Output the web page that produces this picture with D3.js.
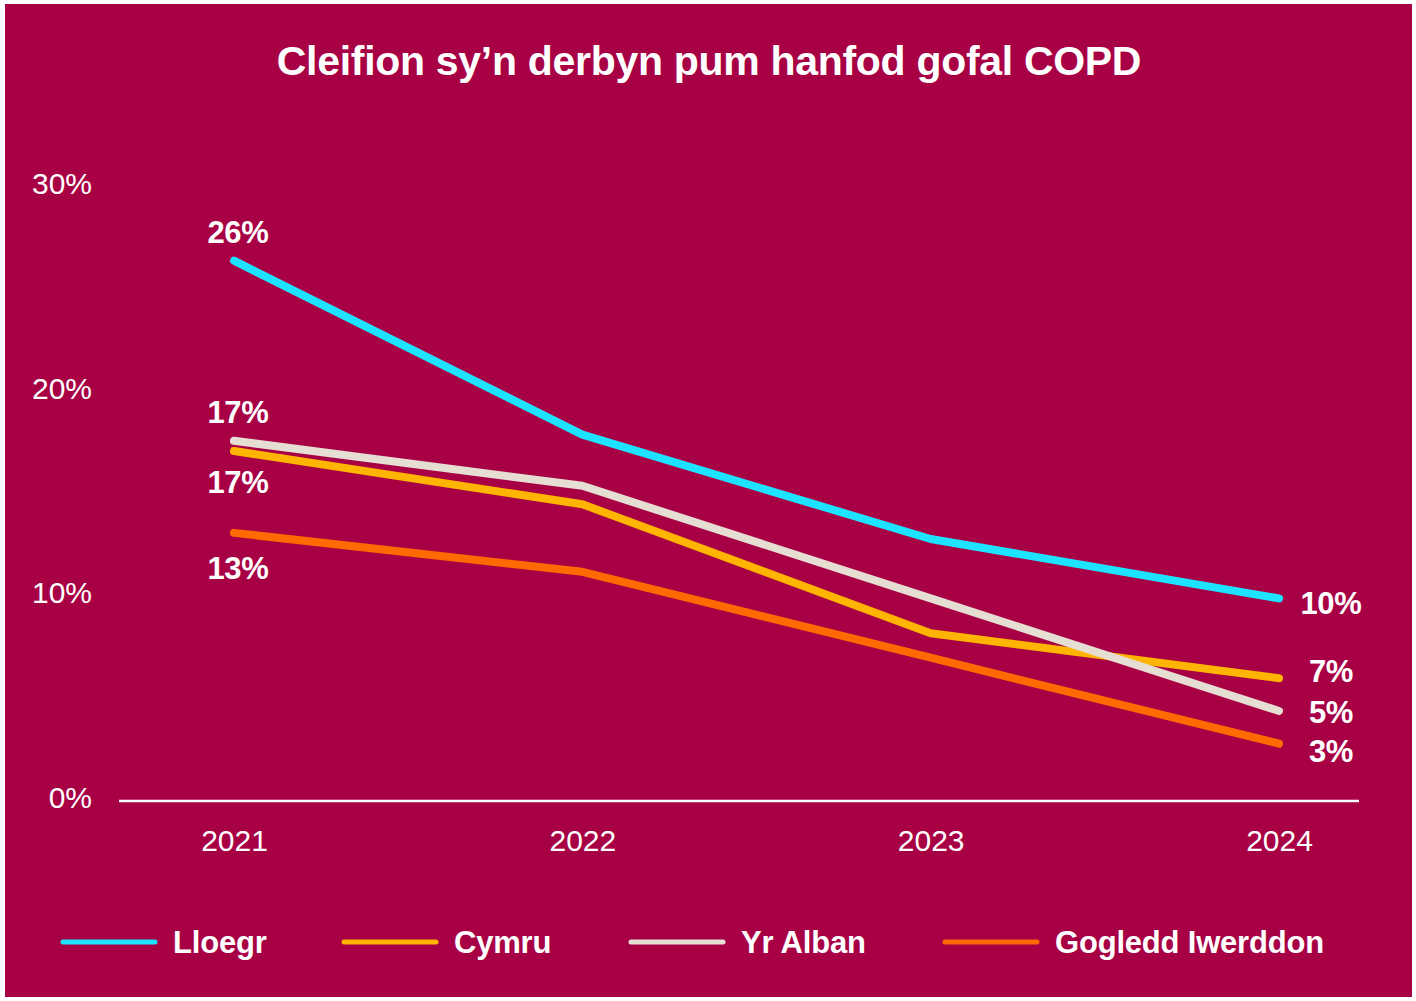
<!DOCTYPE html>
<html>
<head>
<meta charset="utf-8">
<script src="https://cdn.jsdelivr.net/npm/d3@7"></script>
<style>
  body { margin: 0; background: #fff; }
  svg text { font-family: "Liberation Sans", Arial, sans-serif; }
</style>
</head>
<body>
<div class="container"></div>
<script>
// chart data
const years = ["2021", "2022", "2023", "2024"];
const seriesNames = ["Lloegr", "Cymru", "Yr Alban", "Gogledd Iwerddon"];
const lloegr = [26.4, 17.9, 12.8, 9.9];
const cymru = [17.1, 14.5, 8.2, 6.0];
const yrAlban = [17.6, 15.4, 9.9, 4.4];
const gogleddIwerddon = [13.1, 11.2, 7.0, 2.8];
const startLabels = ["26%", "17%", "17%", "13%"];
const endLabels = ["10%", "7%", "5%", "3%"];
const yTicks = [0, 10, 20, 30];

// style per series: colour and label offsets
const colors = ["#1ee3ff", "#ffb400", "#e6ddd3", "#ff6a00"];
const startDy = [-29, 31, -29, 35];
const endDy = [5, -7, 1, 7];
const drawOrder = [3, 1, 2, 0];

const width = 1416;
const height = 1001;
const margin = { top: 187, bottom: 201, left: 119, right: 57 };

const svg = d3.select(".container")
  .append("svg")
  .attr("width", width)
  .attr("height", height);

// background panel
svg.append("rect")
  .attr("x", 5).attr("y", 4)
  .attr("width", 1407).attr("height", 993)
  .attr("fill", "#a80044");

// title
svg.append("text")
  .attr("x", 709).attr("y", 75)
  .attr("text-anchor", "middle")
  .attr("fill", "#fff")
  .attr("font-size", 41)
  .attr("font-weight", "bold")
  .attr("letter-spacing", -0.3)
  .text("Cleifion sy\u2019n derbyn pum hanfod gofal COPD");

const xScale = d3.scalePoint()
  .domain(years)
  .range([234, 1279]);

const yScale = d3.scaleLinear()
  .domain([0, 30])
  .range([height - margin.bottom + 1, margin.top]);

// y axis labels
const yAxis = svg.append("g")
  .attr("transform", `translate(92, -3)`)
  .call(d3.axisLeft(yScale).tickValues(yTicks).tickFormat(d => d + "%").tickSize(0).tickPadding(0));
yAxis.select(".domain").remove();
yAxis.selectAll("text")
  .attr("fill", "#fff")
  .attr("font-size", 30)
  .attr("font-family", "Lato, 'Liberation Sans', sans-serif")
  .attr("font-weight", 300);

// baseline
svg.append("line")
  .attr("x1", margin.left).attr("x2", width - margin.right)
  .attr("y1", yScale(0)).attr("y2", yScale(0))
  .attr("stroke", "#fff").attr("stroke-width", 2.5);

// x axis labels
const xAxis = svg.append("g")
  .attr("transform", `translate(0, ${yScale(0) + 29})`)
  .call(d3.axisBottom(xScale).tickSize(0).tickPadding(0));
xAxis.select(".domain").remove();
xAxis.selectAll("text")
  .attr("fill", "#fff")
  .attr("font-size", 30)
  .attr("font-family", "Lato, 'Liberation Sans', sans-serif")
  .attr("font-weight", 300);

const allSeries = [lloegr, cymru, yrAlban, gogleddIwerddon];

const line = d3.line()
  .x((d, i) => xScale(years[i]))
  .y(d => yScale(d));

// lines
svg.append("g")
  .selectAll("path")
  .data(drawOrder)
  .join("path")
  .attr("d", i => line(allSeries[i]))
  .attr("fill", "none")
  .attr("stroke", i => colors[i])
  .attr("stroke-width", 8)
  .attr("stroke-linecap", "round")
  .attr("stroke-linejoin", "round");

// start labels
svg.append("g")
  .selectAll("text")
  .data(allSeries)
  .join("text")
  .attr("x", xScale(years[0]) + 4)
  .attr("y", (d, i) => yScale(d[0]) + startDy[i])
  .attr("dy", "0.35em")
  .attr("text-anchor", "middle")
  .attr("fill", "#fff")
  .attr("font-size", 31)
  .attr("font-weight", "bold")
  .attr("letter-spacing", -0.3)
  .text((d, i) => startLabels[i]);

// end labels
svg.append("g")
  .selectAll("text")
  .data(allSeries)
  .join("text")
  .attr("x", xScale(years[3]) + 52)
  .attr("y", (d, i) => yScale(d[3]) + endDy[i])
  .attr("dy", "0.35em")
  .attr("text-anchor", "middle")
  .attr("fill", "#fff")
  .attr("font-size", 31)
  .attr("font-weight", "bold")
  .attr("letter-spacing", -0.3)
  .text((d, i) => endLabels[i]);

// legend
const legendX = [63, 344, 631, 945];
const legend = svg.append("g")
  .selectAll("g")
  .data(seriesNames)
  .join("g")
  .attr("transform", (d, i) => `translate(${legendX[i]}, 942)`);
legend.append("line")
  .attr("x1", 0).attr("x2", 92)
  .attr("stroke", (d, i) => colors[i])
  .attr("stroke-width", 5)
  .attr("stroke-linecap", "round");
legend.append("text")
  .attr("x", 110)
  .attr("dy", "0.35em")
  .attr("fill", "#fff")
  .attr("font-size", 31)
  .attr("font-weight", "bold")
  .attr("letter-spacing", -0.2)
  .text(d => d);
</script>
</body>
</html>
